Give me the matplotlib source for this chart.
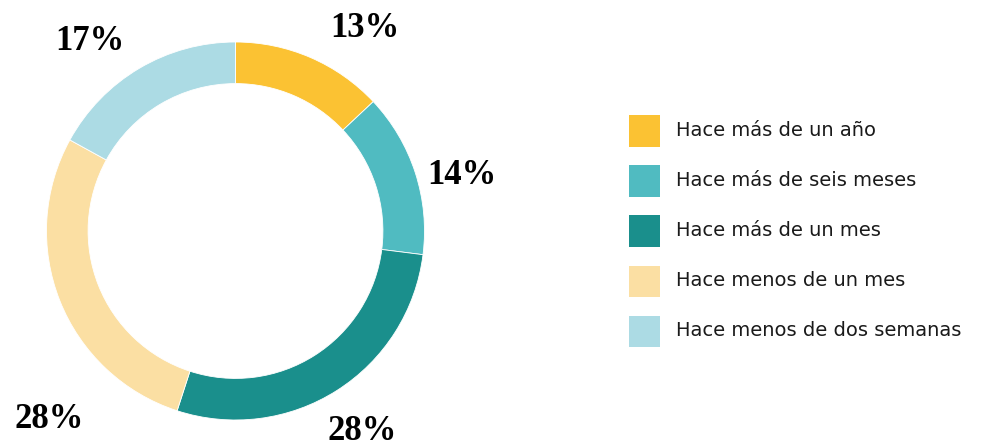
import numpy as np
import matplotlib
matplotlib.use("Agg")
import matplotlib.pyplot as plt
from matplotlib.patches import Rectangle


# DATA

categories = [
    "Hace más de un año",
    "Hace más de seis meses",
    "Hace más de un mes",
    "Hace menos de un mes",
    "Hace menos de dos semanas",
]
shares = [13, 14, 28, 28, 17]
labels = ["13%", "14%", "28%", "28%", "17%"]

colors = ["#FBC233", "#50BBC1", "#1A8F8C", "#FBDFA3", "#ACDBE4"]

# label anchor points (data units, ring outer radius = 1)
label_pos = [(0.685, 1.074), (1.198, 0.296), (0.669, -1.063), (-0.987, -1.0), (-0.770, 1.0)]


# FIGURE

W, H = 989, 447
fig = plt.figure(figsize=(W / 100, H / 100), dpi=100)

R_PX = 189
CX, CY = 235.5, H - 231
BOX = 400
ax = fig.add_axes([(CX - BOX / 2) / W, (CY - BOX / 2) / H, BOX / W, BOX / H])
lim = BOX / 2 / R_PX

ax.pie(
    shares,
    colors=colors,
    startangle=90,
    counterclock=False,
    radius=1.0,
    wedgeprops=dict(width=0.22, edgecolor="white", linewidth=0.6),
)
ax.set_xlim(-lim, lim)
ax.set_ylim(-lim, lim)
ax.set_aspect("equal")
ax.axis("off")

for lab, (x, y) in zip(labels, label_pos):
    ax.text(x, y, lab, ha="center", va="center", fontsize=25,
            fontweight="bold", family="Liberation Serif", color="black")


# LEGEND (drawn by hand)

sq = 31
x0 = 629
for i, (cat, col) in enumerate(zip(categories, colors)):
    yc = 131 + i * 50
    fig.patches.append(Rectangle(((x0) / W, (H - yc - sq / 2) / H), sq / W, sq / H,
                                 transform=fig.transFigure, facecolor=col,
                                 edgecolor="none"))
    fig.text(676 / W, (H - yc) / H, cat, ha="left", va="center",
             fontsize=14, family="DejaVu Sans", color="#1a1a1a")

fig.savefig("out.png", dpi=100)
